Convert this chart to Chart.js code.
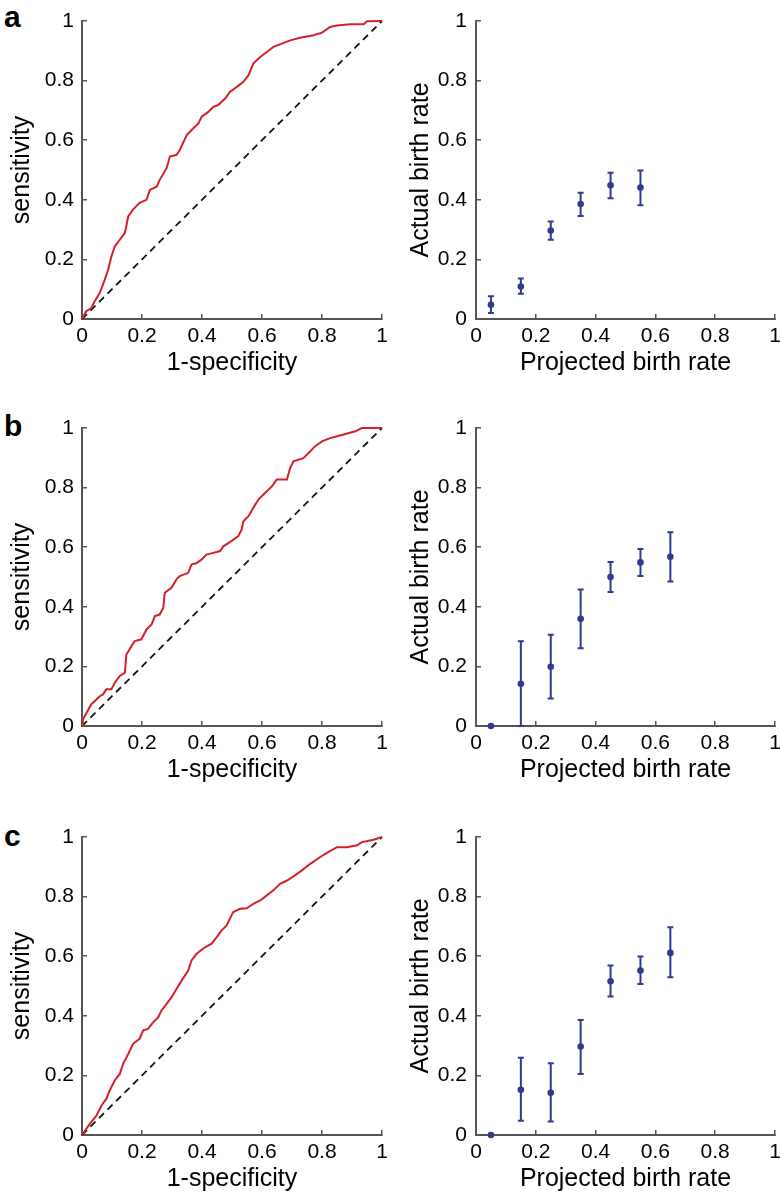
<!DOCTYPE html>
<html>
<head>
<meta charset="utf-8">
<script src="https://cdn.jsdelivr.net/npm/chart.js@4/dist/chart.umd.min.js"></script>
<style>
  html, body { margin: 0; padding: 0; background: #fff; }
  #wrap { position: relative; width: 780px; height: 1193px; overflow: hidden; background: #fff; }
  canvas { position: absolute; }
  .lab { position: absolute; font-family: 'Liberation Sans', Arial, Helvetica, sans-serif; font-weight: bold; font-size: 30px; line-height: 30px; color: #000; }
</style>
</head>
<body>
<div id="wrap">
  <div class="lab" style="left:4px;top:2px;">a</div>
  <div class="lab" style="left:4px;top:411px;">b</div>
  <div class="lab" style="left:4px;top:821px;">c</div>
  <canvas id="aL" width="390" height="380" style="left:0;top:0;"></canvas>
  <canvas id="aR" width="390" height="380" style="left:390px;top:0;"></canvas>
  <canvas id="bL" width="390" height="380" style="left:0;top:407px;"></canvas>
  <canvas id="bR" width="390" height="380" style="left:390px;top:407px;"></canvas>
  <canvas id="cL" width="390" height="380" style="left:0;top:816px;"></canvas>
  <canvas id="cR" width="390" height="380" style="left:390px;top:816px;"></canvas>
</div>
<script>
// ---------- data ----------
const tickValues = [0, 0.2, 0.4, 0.6, 0.8, 1];
const tickLabels = ['0', '0.2', '0.4', '0.6', '0.8', '1'];
const chanceX = [0, 1];
const chanceY = [0, 1];

// ROC curves (1-specificity, sensitivity)
const rocA_fpr = [0, 0.014, 0.031, 0.042, 0.059, 0.076, 0.087, 0.098, 0.109, 0.126, 0.143, 0.154, 0.17, 0.192, 0.215, 0.226, 0.249, 0.259, 0.282, 0.293, 0.315, 0.326, 0.349, 0.371, 0.388, 0.399, 0.421, 0.438, 0.454, 0.477, 0.493, 0.516, 0.538, 0.555, 0.571, 0.594, 0.616, 0.638, 0.666, 0.694, 0.727, 0.772, 0.8, 0.827, 0.85, 0.894, 0.939, 0.95, 1];
const rocA_tpr = [0, 0.026, 0.037, 0.059, 0.087, 0.132, 0.165, 0.21, 0.243, 0.266, 0.289, 0.344, 0.367, 0.39, 0.4, 0.433, 0.444, 0.467, 0.506, 0.545, 0.551, 0.567, 0.617, 0.64, 0.656, 0.679, 0.695, 0.712, 0.718, 0.74, 0.762, 0.779, 0.796, 0.818, 0.857, 0.879, 0.896, 0.913, 0.924, 0.935, 0.944, 0.952, 0.961, 0.98, 0.985, 0.989, 0.989, 0.999, 1];

const rocB_fpr = [0, 0.003, 0.031, 0.048, 0.059, 0.07, 0.081, 0.098, 0.109, 0.126, 0.143, 0.148, 0.165, 0.176, 0.198, 0.215, 0.232, 0.243, 0.259, 0.271, 0.276, 0.298, 0.315, 0.326, 0.354, 0.365, 0.382, 0.399, 0.415, 0.438, 0.46, 0.471, 0.493, 0.521, 0.532, 0.538, 0.555, 0.571, 0.588, 0.605, 0.633, 0.649, 0.683, 0.694, 0.705, 0.738, 0.761, 0.777, 0.8, 0.827, 0.872, 0.911, 0.933, 1];
const rocB_tpr = [0, 0.022, 0.073, 0.089, 0.1, 0.106, 0.123, 0.123, 0.145, 0.168, 0.179, 0.24, 0.268, 0.285, 0.291, 0.324, 0.341, 0.369, 0.374, 0.397, 0.447, 0.464, 0.492, 0.503, 0.514, 0.542, 0.547, 0.559, 0.575, 0.581, 0.587, 0.603, 0.617, 0.637, 0.659, 0.687, 0.704, 0.732, 0.76, 0.777, 0.804, 0.827, 0.827, 0.866, 0.888, 0.899, 0.922, 0.939, 0.955, 0.966, 0.978, 0.989, 1.0, 1];

const rocC_fpr = [0, 0.026, 0.048, 0.065, 0.081, 0.092, 0.109, 0.126, 0.137, 0.154, 0.17, 0.192, 0.204, 0.22, 0.237, 0.254, 0.265, 0.282, 0.298, 0.315, 0.332, 0.354, 0.365, 0.382, 0.41, 0.432, 0.449, 0.465, 0.482, 0.493, 0.504, 0.527, 0.549, 0.571, 0.594, 0.616, 0.638, 0.66, 0.683, 0.705, 0.733, 0.761, 0.794, 0.822, 0.85, 0.883, 0.917, 0.933, 0.972, 1];
const rocC_tpr = [0, 0.037, 0.065, 0.099, 0.121, 0.149, 0.183, 0.205, 0.239, 0.272, 0.306, 0.323, 0.351, 0.356, 0.378, 0.395, 0.418, 0.44, 0.462, 0.49, 0.518, 0.552, 0.586, 0.608, 0.63, 0.642, 0.664, 0.686, 0.703, 0.726, 0.748, 0.759, 0.761, 0.776, 0.787, 0.804, 0.821, 0.843, 0.854, 0.868, 0.888, 0.91, 0.933, 0.95, 0.966, 0.966, 0.972, 0.983, 0.991, 1];

// Calibration (projected vs actual birth rate)
const projA = [0.05, 0.15, 0.25, 0.35, 0.45, 0.55];
const actA = [0.048, 0.109, 0.297, 0.386, 0.449, 0.441];
const loA = [0.02, 0.085, 0.266, 0.346, 0.405, 0.382];
const hiA = [0.076, 0.136, 0.327, 0.424, 0.491, 0.498];

const projB = [0.05, 0.15, 0.25, 0.35, 0.45, 0.55, 0.65];
const actB = [0, 0.142, 0.199, 0.36, 0.5, 0.549, 0.568];
const loB = [0, 0, 0.092, 0.261, 0.45, 0.503, 0.485];
const hiB = [0, 0.284, 0.306, 0.458, 0.55, 0.594, 0.65];

const projC = [0.05, 0.15, 0.25, 0.35, 0.45, 0.55, 0.65];
const actC = [0, 0.152, 0.142, 0.297, 0.516, 0.552, 0.611];
const loC = [0, 0.048, 0.045, 0.205, 0.465, 0.507, 0.529];
const hiC = [0, 0.259, 0.241, 0.386, 0.569, 0.599, 0.697];

// ---------- rendering ----------
const FONT = "'Liberation Sans', Arial, Helvetica, sans-serif";
const AXIS_COLOR = '#555555';
const RED = '#D42029';
const BLUE = '#2F3A8E';

function pts(xs, ys) { return xs.map((x, i) => ({ x: x, y: ys[i] })); }

function makeAxis(isX, titleText, yAxisWidth, yTickPad, yTitlePad) {
  return {
    type: 'linear', min: 0, max: 1,
    afterBuildTicks: s => { s.ticks = tickValues.map(v => ({ value: v })); },
    ticks: {
      callback: (v, i) => tickLabels[i],
      font: { family: FONT, size: 21 },
      color: '#000',
      padding: isX ? 10 : yTickPad,
      maxRotation: 0, minRotation: 0, autoSkip: false
    },
    grid: { display: true, drawOnChartArea: false, drawTicks: true, tickLength: -5, color: AXIS_COLOR, lineWidth: 1.5 },
    border: { display: true, color: AXIS_COLOR, width: 2 },
    title: {
      display: true, text: titleText, color: '#000',
      font: { family: FONT, size: 25 },
      padding: isX ? { top: 0, bottom: 2 } : { top: yTitlePad, bottom: 0 }
    },
    afterFit: s => {
      if (isX) s.height = 61; else s.width = yAxisWidth;
      s.paddingLeft = 0; s.paddingRight = 0; s.paddingTop = 0; s.paddingBottom = 0;
    }
  };
}

const errorBarPlugin = {
  id: 'errorBars',
  beforeDatasetsDraw(chart) {
    const ctx = chart.ctx;
    chart.data.datasets.forEach((ds) => {
      if (!ds.errLo) return;
      const xs = chart.scales.x, ys = chart.scales.y;
      ctx.save();
      ctx.strokeStyle = ds.borderColor;
      ctx.lineWidth = 2;
      ds.data.forEach((p, i) => {
        const lo = ds.errLo[i], hi = ds.errHi[i];
        if (hi - lo <= 0) return;
        const px = xs.getPixelForValue(p.x);
        const pLo = ys.getPixelForValue(lo), pHi = ys.getPixelForValue(hi);
        ctx.beginPath();
        ctx.moveTo(px, pLo); ctx.lineTo(px, pHi);
        ctx.moveTo(px - 3, pLo); ctx.lineTo(px + 3, pLo);
        ctx.moveTo(px - 3, pHi); ctx.lineTo(px + 3, pHi);
        ctx.stroke();
      });
      ctx.restore();
    });
  }
};

function rocChart(id, fpr, tpr) {
  new Chart(document.getElementById(id), {
    type: 'scatter',
    data: {
      datasets: [
        { data: pts(fpr, tpr), showLine: true, borderColor: RED, borderWidth: 2, pointRadius: 0, tension: 0, clip: false, order: 1 },
        { data: pts(chanceX, chanceY), showLine: true, borderColor: '#111', borderWidth: 1.8, borderDash: [7, 5], pointRadius: 0, clip: false, order: 2 }
      ]
    },
    options: {
      responsive: false, animation: false, devicePixelRatio: 1,
      layout: { padding: { left: 0, top: 21, right: 8, bottom: 0 } },
      plugins: { legend: { display: false }, tooltip: { enabled: false } },
      scales: { x: makeAxis(true, '1-specificity'), y: makeAxis(false, 'sensitivity', 82, 13, 7) }
    }
  });
}

function calChart(id, proj, act, lo, hi) {
  new Chart(document.getElementById(id), {
    type: 'scatter',
    data: {
      datasets: [
        { data: pts(proj, act), errLo: lo, errHi: hi, borderColor: BLUE, backgroundColor: BLUE, pointRadius: 3.3, pointBorderWidth: 0, showLine: false, clip: false }
      ]
    },
    options: {
      responsive: false, animation: false, devicePixelRatio: 1,
      layout: { padding: { left: 0, top: 21, right: 5, bottom: 0 } },
      plugins: { legend: { display: false }, tooltip: { enabled: false } },
      scales: { x: makeAxis(true, 'Projected birth rate'), y: makeAxis(false, 'Actual birth rate', 86, 14, 16) }
    },
    plugins: [errorBarPlugin]
  });
}

rocChart('aL', rocA_fpr, rocA_tpr);
rocChart('bL', rocB_fpr, rocB_tpr);
rocChart('cL', rocC_fpr, rocC_tpr);
calChart('aR', projA, actA, loA, hiA);
calChart('bR', projB, actB, loB, hiB);
calChart('cR', projC, actC, loC, hiC);
</script>
</body>
</html>
